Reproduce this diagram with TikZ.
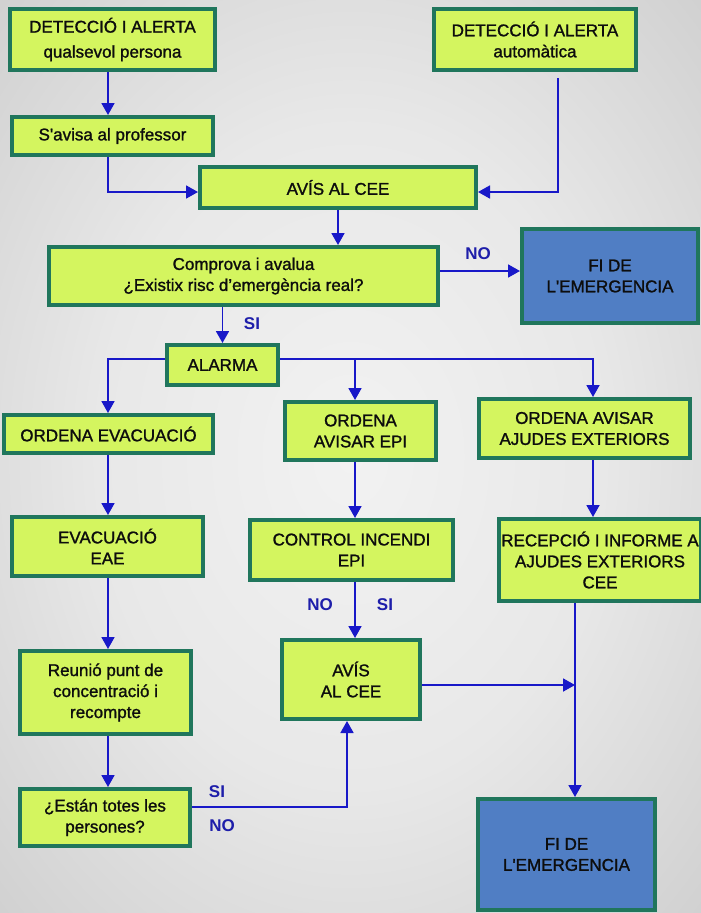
\documentclass[tikz,border=0pt]{standalone}
\usepackage{fontspec}
\setmainfont{Liberation Sans}
\newfontfamily\boxfont{Liberation Sans}[FakeBold=1.3]
\usetikzlibrary{arrows.meta}
\definecolor{boxfill}{RGB}{212,245,95}
\definecolor{boxline}{RGB}{32,118,92}
\definecolor{endfill}{RGB}{80,126,196}
\definecolor{arrowblue}{RGB}{24,24,200}
\definecolor{labelblue}{RGB}{30,30,170}
\definecolor{bgA}{RGB}{242,242,242}
\definecolor{bgB}{RGB}{232,232,232}
\definecolor{bgC}{RGB}{196,196,196}
\definecolor{bgD}{RGB}{160,160,160}
\pgfdeclareradialshading{bgshade}{\pgfpoint{0bp}{0bp}}{color(0bp)=(bgA); color(18bp)=(bgB); color(45bp)=(bgC); color(72bp)=(bgD)}
\begin{document}
\begin{tikzpicture}[x=1pt,y=-1pt,
  box/.style={draw=boxline, line width=4pt, fill=boxfill, align=center,
    font=\boxfont\fontsize{17}{21}\selectfont, inner sep=0pt, text=black!95},
  endbox/.style={box, fill=endfill},
  arr/.style={draw=arrowblue, line width=1.8pt, -{Triangle[width=13pt,length=12pt]}},
  lab/.style={text=labelblue, font=\bfseries\fontsize{17}{20}\selectfont, inner sep=0pt}]
\useasboundingbox (0,0) rectangle (701,913);
\shade[shading=bgshade] (0,0) rectangle (701,913);

% nodes
\node[box, minimum width=205pt, minimum height=61pt, font=\boxfont\fontsize{17}{25}\selectfont] (d1) at (112.5,39.5) {DETECCIÓ I ALERTA\\qualsevol persona};
\node[box, minimum width=202pt, minimum height=61pt] (d2) at (535,39.5) {DETECCIÓ I ALERTA\\automàtica};
\node[box, minimum width=201pt, minimum height=38pt] (prof) at (112.5,136) {S'avisa al professor};
\node[box, minimum width=276pt, minimum height=41pt] (cee1) at (338,187.5) {AVÍS AL CEE};
\node[box, minimum width=389pt, minimum height=58pt] (comp) at (243.5,276) {Comprova i avalua\\¿Existix risc d’emergència real?};
\node[endbox, minimum width=176pt, minimum height=94pt] (fi1) at (610,276) {FI DE\\L'EMERGENCIA};
\node[box, minimum width=111pt, minimum height=40pt] (alarma) at (222.5,365) {ALARMA};
\node[box, minimum width=209pt, minimum height=38pt] (ordev) at (108.5,434) {ORDENA EVACUACIÓ};
\node[box, minimum width=151pt, minimum height=58pt] (ordepi) at (360.5,431) {ORDENA\\AVISAR EPI};
\node[box, minimum width=211pt, minimum height=59pt] (ordaj) at (584.5,428.5) {ORDENA AVISAR\\AJUDES EXTERIORS};
\node[box, minimum width=191pt, minimum height=59pt] (evac) at (107.5,546.5) {EVACUACIÓ\\EAE};
\node[box, minimum width=203pt, minimum height=60pt] (ctrl) at (351.5,550) {CONTROL INCENDI\\EPI};
\node[box, minimum width=202pt, minimum height=82pt] (recep) at (600,560) {RECEPCIÓ I INFORME A\\AJUDES EXTERIORS\\CEE};
\node[box, minimum width=171pt, minimum height=83pt] (reun) at (105.5,692.5) {Reunió punt de\\concentració i\\recompte};
\node[box, minimum width=138pt, minimum height=79pt] (cee2) at (351,679.5) {AVÍS\\AL CEE};
\node[box, minimum width=170pt, minimum height=57pt] (estan) at (105,817.5) {¿Están totes les\\persones?};
\node[endbox, minimum width=177pt, minimum height=111pt] (fi2) at (566.5,854.5) {FI DE\\L'EMERGENCIA};

% helper coordinates
\coordinate (c108) at (108,0);
\coordinate (j1) at (108,192);
\coordinate (j2) at (558,192);
\coordinate (d2b) at ([yshift=-6pt]d2.south);
\coordinate (j3) at (0,271);
\coordinate (j4) at (108,359);
\coordinate (j5) at (593,359);
\coordinate (j6) at (355,359);
\coordinate (j7) at (347,807);
\coordinate (j8) at (575,685);

% connectors
\draw[arr] (d1.south -| c108) -- (prof.north -| c108);
\draw[arr] (prof.south -| j1) |- (cee1.west |- j1);
\draw[arr] (d2b -| j2) |- (cee1.east |- j2);
\draw[arr] (cee1.south) -- (cee1.south |- comp.north);
\draw[arr] (comp.east |- j3) -- (fi1.west |- j3);
\draw[arr] (alarma.north |- comp.south) -- (alarma.north);
\draw[arr] (alarma.west |- j4) -| (ordev.north -| j4);
\draw[arr] (alarma.east |- j5) -| (ordaj.north -| j5);
\draw[arr] (j6) -- (ordepi.north -| j6);
\draw[arr] (ordev.south -| c108) -- (evac.north -| c108);
\draw[arr] (evac.south -| c108) -- (reun.north -| c108);
\draw[arr] (reun.south -| c108) -- (estan.north -| c108);
\draw[arr] (ordepi.south -| j6) -- (ctrl.north -| j6);
\draw[arr] (ctrl.south -| j6) -- (cee2.north -| j6);
\draw[arr] (estan.east |- j7) -| (cee2.south -| j7);
\draw[arr] (ordaj.south -| j5) -- (recep.north -| j5);
\draw[arr] (recep.south -| j8) -- (fi2.north -| j8);
\draw[arr] (cee2.east |- j8) -- (j8);

% labels
\node[lab] (no1) at (478,254) {NO};
\node[lab] (si1) at (252,324) {SI};
\node[lab] (no2) at (320,605) {NO};
\node[lab] (si2) at (385,605) {SI};
\node[lab] (si3) at (217,792) {SI};
\node[lab] (no3) at (222,826) {NO};
\end{tikzpicture}
\end{document}
